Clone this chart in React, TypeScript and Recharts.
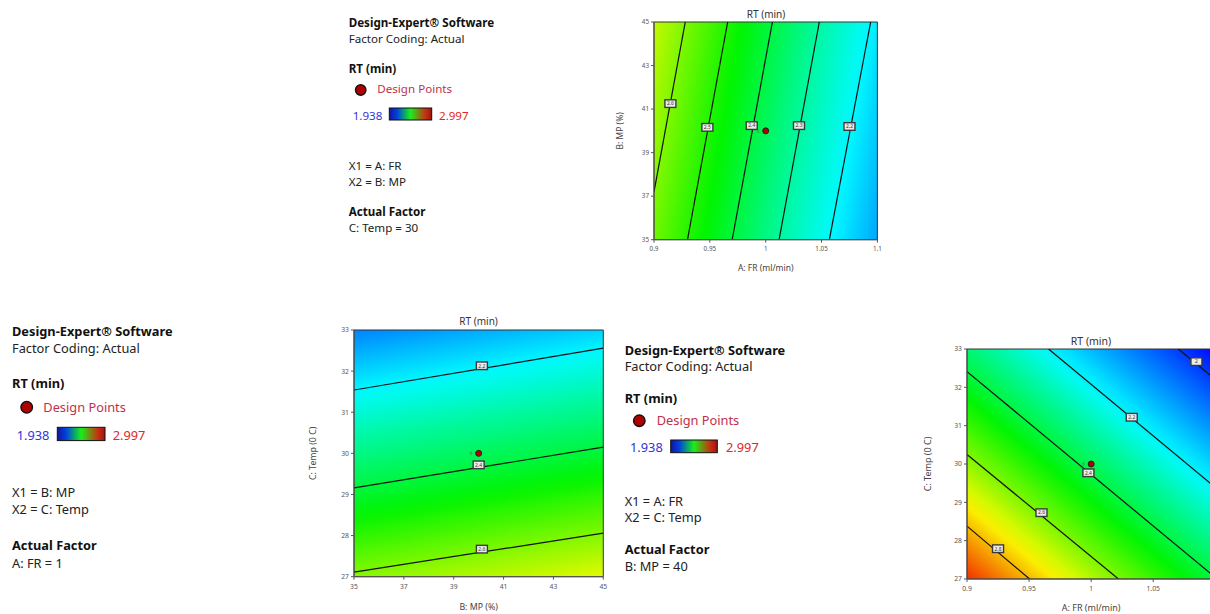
import React from "react";
import { ScatterChart, Scatter, XAxis, YAxis, ReferenceLine, ReferenceArea, CartesianGrid } from "recharts";

// ---- axis ticks ----
const frTicks = [0.9, 0.95, 1, 1.05, 1.1];
const frTicksCut = [0.9, 0.95, 1, 1.05]; // 1.1 falls past the page edge in the third plot
const mpTicks = [35, 37, 39, 41, 43, 45];
const tempTicks = [27, 28, 29, 30, 31, 32, 33];

// ---- contour lines (RT, min) ----
const contoursFrMp = [
  { level: 2.6, from: { x: 0.9, y: 37.2 }, to: { x: 0.928, y: 45 } },
  { level: 2.5, from: { x: 0.93, y: 35 }, to: { x: 0.966, y: 45 } },
  { level: 2.4, from: { x: 0.97, y: 35 }, to: { x: 1.006, y: 45 } },
  { level: 2.3, from: { x: 1.012, y: 35 }, to: { x: 1.048, y: 45 } },
  { level: 2.2, from: { x: 1.057, y: 35 }, to: { x: 1.094, y: 45 } },
];
const contoursMpTemp = [
  { level: 2.2, from: { x: 35, y: 31.54 }, to: { x: 45, y: 32.56 } },
  { level: 2.4, from: { x: 35, y: 29.16 }, to: { x: 45, y: 30.15 } },
  { level: 2.6, from: { x: 35, y: 27.11 }, to: { x: 45, y: 28.06 } },
];
const contoursFrTemp = [
  { level: 2.8, from: { x: 0.9, y: 28.38 }, to: { x: 0.9504, y: 27 } },
  { level: 2.6, from: { x: 0.9, y: 30.25 }, to: { x: 1.022, y: 27 } },
  { level: 2.4, from: { x: 0.9, y: 32.41 }, to: { x: 1.1, y: 27.04 } },
  { level: 2.2, from: { x: 0.9657, y: 33 }, to: { x: 1.1, y: 29.39 } },
  { level: 2.0, from: { x: 1.0702, y: 33 }, to: { x: 1.1, y: 32.21 } },
];

// ---- contour level tags ----
const tagsFrMp = [
  { x: 0.9147, y: 41.25, label: "2.6" },
  { x: 0.9478, y: 40.16, label: "2.5" },
  { x: 0.9875, y: 40.24, label: "2.4" },
  { x: 1.0298, y: 40.24, label: "2.3" },
  { x: 1.075, y: 40.2, label: "2.2" },
];
const tagsMpTemp = [
  { x: 40.13, y: 32.13, label: "2.2" },
  { x: 40.0, y: 29.72, label: "2.4" },
  { x: 40.13, y: 27.67, label: "2.6" },
];
const tagsFrTemp = [
  { x: 0.925, y: 27.79, label: "2.8" },
  { x: 0.96, y: 28.73, label: "2.6" },
  { x: 0.9978, y: 29.77, label: "2.4" },
  { x: 1.0327, y: 31.22, label: "2.2" },
  { x: 1.0848, y: 32.67, label: "2" },
];

// ---- design points (center point, 6 runs) ----
const designFrMp = [{ x: 1, y: 40, n: 6 }];
const designMpTemp = [{ x: 40, y: 30, n: 6 }];
const designFrTemp = [{ x: 1, y: 30, n: 6 }];

const RT_MIN = 1.938;
const RT_MAX = 2.997;
const RAMP = [
  [0, 0, 255],
  [0, 250, 255],
  [0, 245, 0],
  [250, 250, 0],
  [240, 0, 0],
];

function rtColor(v: number) {
  const f = Math.min(1, Math.max(0, (v - RT_MIN) / (RT_MAX - RT_MIN))) * 4;
  const i = Math.min(3, Math.floor(f));
  const k = f - i;
  const a = RAMP[i], b = RAMP[i + 1];
  const c = a.map((ch, j) => Math.round(ch + (b[j] - ch) * k));
  return `rgb(${c[0]},${c[1]},${c[2]})`;
}

// value along gradient, piecewise between anchor points [t, value]
function gradStops(anchors: number[][]) {
  const out: { o: number; c: string }[] = [];
  for (let s = 0; s <= 24; s++) {
    const t = s / 24;
    let v = anchors[0][1];
    for (let j = 0; j < anchors.length - 1; j++) {
      const [t0, v0] = anchors[j];
      const [t1, v1] = anchors[j + 1];
      if (t >= t0 && t <= t1) v = v0 + ((v1 - v0) * (t - t0)) / (t1 - t0);
    }
    out.push({ o: t, c: rtColor(v) });
  }
  return out;
}

const GRADS = [
  { id: "gFrMp", x1: 0, y1: 0, x2: 1.137, y2: 0.193, anchors: [[0, 2.676], [0.121, 2.6], [0.281, 2.5], [0.451, 2.4], [0.631, 2.3], [0.829, 2.2], [1, 2.114]] },
  { id: "gMpTemp", x1: 0, y1: 0, x2: 0.187, y2: 1.134, anchors: [[0, 2.077], [0.209, 2.2], [0.548, 2.4], [0.843, 2.6], [1, 2.706]] },
  { id: "gFrTemp", x1: 0, y1: 1, x2: 0.942, y2: -0.052, anchors: [[0, 2.947], [0.1213, 2.8], [0.2859, 2.6], [0.4753, 2.4], [0.6828, 2.2], [0.93, 2.0], [1, 1.943]] },
];

const AXIS = "#555";
const FONT = "'Noto Sans', 'Open Sans', sans-serif";

const LevelTag = (p: any) => {
  const { cx, cy, payload } = p;
  return (
    <g>
      <rect x={cx - 5.5} y={cy - 3.8} width={11} height={7.6} fill="#ececec" stroke="#3a3a3a" strokeWidth={1.4} />
      <text x={cx} y={cy + 1.8} fontSize={5} textAnchor="middle" fill="#333" fontFamily={FONT}>{payload.label}</text>
    </g>
  );
};

const DesignDot = (p: any) => {
  const { cx, cy, payload } = p;
  return (
    <g>
      <text x={cx - 6} y={cy + 1.8} fontSize={5} textAnchor="end" fill="#4a8a4a" fontFamily={FONT}>{payload.n}</text>
      <circle cx={cx} cy={cy} r={3} fill="#b00000" stroke="#222" strokeWidth={1} />
    </g>
  );
};

type PanelProps = {
  grad: string;
  left: number; top: number; w: number; h: number;
  xDomain: number[]; xTicks: number[]; yDomain: number[]; yTicks: number[];
  xLabel: string; yLabel: string; xLabelGap: number; yLabelGap: number; labelSize: number; tickSize: number;
  contours: { level: number; from: { x: number; y: number }; to: { x: number; y: number } }[];
  tags: { x: number; y: number; label: string }[];
  design: { x: number; y: number; n: number }[];
};

function ContourPanel(p: PanelProps) {
  const padL = 50, padT = 12, padR = 12, axisH = 40;
  return (
    <div style={{ position: "absolute", left: p.left - padL, top: p.top - padT }}>
      <ScatterChart width={padL + p.w + padR} height={padT + p.h + axisH} margin={{ top: padT, right: padR, left: 0, bottom: 0 }}>
        <CartesianGrid horizontal={false} vertical={false} fill={`url(#${p.grad})`} fillOpacity={1} stroke="none" />
        <XAxis
          type="number" dataKey="x" domain={p.xDomain} ticks={p.xTicks} allowDataOverflow height={axisH}
          stroke={AXIS} tickSize={3} tickMargin={4} tick={{ fontSize: p.tickSize, fill: "#555", fontFamily: FONT }}
          label={{ value: p.xLabel, position: "insideBottom", offset: axisH - p.xLabelGap, fontSize: p.labelSize, fill: "#444", fontFamily: FONT }}
        />
        <YAxis
          type="number" dataKey="y" domain={p.yDomain} ticks={p.yTicks} allowDataOverflow width={padL}
          stroke={AXIS} tickSize={3} tickMargin={2} tick={{ fontSize: p.tickSize, fill: "#555", fontFamily: FONT }}
          label={{ value: p.yLabel, angle: -90, position: "insideLeft", offset: padL - p.yLabelGap, fontSize: p.labelSize, fill: "#444", fontFamily: FONT, style: { textAnchor: "middle" } }}
        />
        {p.contours.map((c, i) => (
          <ReferenceLine key={i} segment={[c.from, c.to]} stroke="#111" strokeWidth={1.2} ifOverflow="hidden" />
        ))}
        <ReferenceArea x1={p.xDomain[0]} x2={p.xDomain[1]} y1={p.yDomain[0]} y2={p.yDomain[1]} fill="none" fillOpacity={0} stroke="#333" strokeWidth={1} />
        <Scatter data={p.tags} shape={LevelTag} isAnimationActive={false} />
        <Scatter data={p.design} shape={DesignDot} isAnimationActive={false} />
      </ScatterChart>
    </div>
  );
}

type LegendProps = {
  x: number; fs: number; dotX: number; dpX: number; minX: number; barX: number; barW: number; maxX: number;
  ys: number[]; barTop: number; barH: number; x1: string; x2: string; fixed: string;
};

function DesignLegend(l: LegendProps) {
  const [yTitle, yCoding, yRT, yDot, yDP, yNums, yX1, yX2, yAF, yFixed] = l.ys;
  const t = { fontFamily: FONT, fontSize: l.fs, fill: "#222" };
  const b = { ...t, fontWeight: 700, fill: "#111" };
  return (
    <g>
      <text x={l.x} y={yTitle} {...b}>Design-Expert® Software</text>
      <text x={l.x} y={yCoding} {...t}>Factor Coding: Actual</text>
      <text x={l.x} y={yRT} {...b}>RT (min)</text>
      <circle cx={l.dotX} cy={yDot} r={l.fs * 0.45} fill="#b00000" stroke="#111" strokeWidth={1.4} />
      <text x={l.dpX} y={yDP} {...t} fill="#c0304a">Design Points</text>
      <text x={l.minX} y={yNums} {...t} fill="#3434d8">1.938</text>
      <rect x={l.barX} y={l.barTop} width={l.barW} height={l.barH} fill="url(#gLegend)" stroke="#111" strokeWidth={1} />
      <text x={l.maxX} y={yNums} {...t} fill="#e02828">2.997</text>
      <text x={l.x} y={yX1} {...t}>{l.x1}</text>
      <text x={l.x} y={yX2} {...t}>{l.x2}</text>
      <text x={l.x} y={yAF} {...b}>Actual Factor</text>
      <text x={l.x} y={yFixed} {...t}>{l.fixed}</text>
    </g>
  );
}

export default function App() {
  return (
    <div style={{ position: "absolute", left: 0, top: 0, width: 1210, height: 614, overflow: "hidden", background: "#fff" }}>
      <svg width={1210} height={614} style={{ position: "absolute", left: 0, top: 0 }}>
        <defs>
          {GRADS.map((g) => (
            <linearGradient key={g.id} id={g.id} x1={g.x1} y1={g.y1} x2={g.x2} y2={g.y2}>
              {gradStops(g.anchors).map((s, i) => (
                <stop key={i} offset={s.o} stopColor={s.c} />
              ))}
            </linearGradient>
          ))}
          <linearGradient id="gLegend" x1="0" y1="0" x2="1" y2="0">
            <stop offset="0" stopColor="#14149c" />
            <stop offset="0.18" stopColor="#0040e0" />
            <stop offset="0.5" stopColor="#18f018" />
            <stop offset="0.85" stopColor="#c83010" />
            <stop offset="1" stopColor="#a01414" />
          </linearGradient>
        </defs>
        <DesignLegend x={348.7} fs={11.6} dotX={360.7} dpX={377.3} minX={352.7} barX={389.3} barW={42.4} maxX={439}
          ys={[27.3, 42.7, 73.3, 90, 93.3, 120, 170, 186, 216, 231.7]} barTop={108} barH={12}
          x1="X1 = A: FR" x2="X2 = B: MP" fixed="C: Temp = 30" />
        <DesignLegend x={12} fs={12.8} dotX={26.7} dpX={43.3} minX={16.7} barX={57.3} barW={47.7} maxX={112.7}
          ys={[336, 353.3, 388.3, 407.3, 411.7, 440, 496.7, 514.3, 550, 567.7]} barTop={427.3} barH={13.3}
          x1="X1 = B: MP" x2="X2 = C: Temp" fixed="A: FR = 1" />
        <DesignLegend x={624.7} fs={12.8} dotX={639.3} dpX={656.7} minX={630} barX={670.7} barW={46.6} maxX={726}
          ys={[355, 370.7, 403.3, 420.7, 425, 451.7, 505.7, 521.7, 554, 571]} barTop={440} barH={12.7}
          x1="X1 = A: FR" x2="X2 = C: Temp" fixed="B: MP = 40" />
        <text x={766} y={17.5} textAnchor="middle" fontFamily={FONT} fontSize={10} fill="#333">RT (min)</text>
        <text x={478.6} y={325} textAnchor="middle" fontFamily={FONT} fontSize={10} fill="#333">RT (min)</text>
        <text x={1091} y={345} textAnchor="middle" fontFamily={FONT} fontSize={10.5} fill="#333">RT (min)</text>
      </svg>

      <ContourPanel grad="gFrMp" left={654.3} top={22.3} w={223.4} h={217.7}
        xDomain={[0.9, 1.1]} xTicks={frTicks} yDomain={[35, 45]} yTicks={mpTicks}
        xLabel="A: FR (ml/min)" yLabel="B: MP (%)" xLabelGap={31} yLabelGap={34} labelSize={8.5} tickSize={6.3}
        contours={contoursFrMp} tags={tagsFrMp} design={designFrMp} />
      <ContourPanel grad="gMpTemp" left={354} top={330} w={249.3} h={246.7}
        xDomain={[35, 45]} xTicks={mpTicks} yDomain={[27, 33]} yTicks={tempTicks}
        xLabel="B: MP (%)" yLabel="C: Temp (0 C)" xLabelGap={33} yLabelGap={41} labelSize={8.8} tickSize={6.8}
        contours={contoursMpTemp} tags={tagsMpTemp} design={designMpTemp} />
      <ContourPanel grad="gFrTemp" left={966.7} top={349} w={248.3} h={230}
        xDomain={[0.9, 1.1]} xTicks={frTicksCut} yDomain={[27, 33]} yTicks={tempTicks}
        xLabel="A: FR (ml/min)" yLabel="C: Temp (0 C)" xLabelGap={32} yLabelGap={38.7} labelSize={9} tickSize={6.8}
        contours={contoursFrTemp} tags={tagsFrTemp} design={designFrTemp} />
    </div>
  );
}
